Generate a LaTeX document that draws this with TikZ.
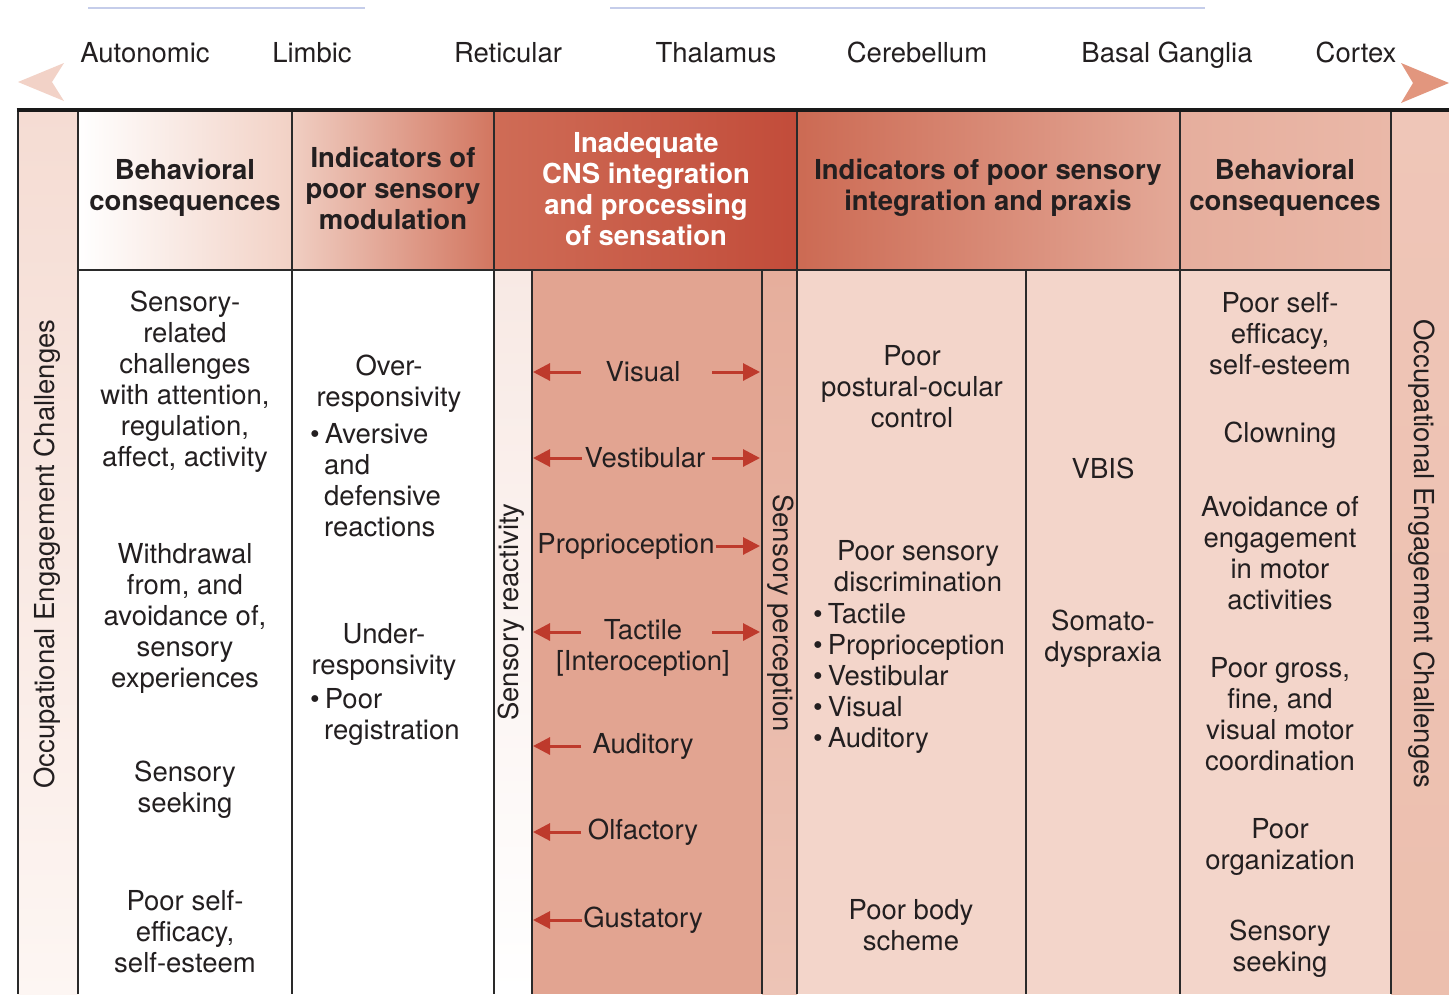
\documentclass[tikz,border=0pt]{standalone}
\usepackage{fontspec}
\setmainfont{TeX Gyre Heros}
\usetikzlibrary{arrows.meta}
\definecolor{txtc}{HTML}{231F20}
\definecolor{arrowred}{HTML}{BE3A2C}
\definecolor{gridc}{HTML}{2A2A2A}
\definecolor{bluel}{HTML}{C5CDEA}
\definecolor{pinkL}{HTML}{F2D2C7}
\definecolor{salmonR}{HTML}{E2967E}
\definecolor{bodypink}{HTML}{F3D5CA}
\definecolor{midsalmon}{HTML}{E2A491}
\definecolor{occtop}{HTML}{F5DCD3}
\definecolor{occmid}{HTML}{F1CEC2}
\definecolor{occbot}{HTML}{FDF6F3}
\definecolor{hAR}{HTML}{F2D1C5}
\definecolor{hBL}{HTML}{F0CEC2}
\definecolor{hBR}{HTML}{D27660}
\definecolor{hCL}{HTML}{CF6C56}
\definecolor{hCM}{HTML}{B73B2C}
\definecolor{hCR}{HTML}{C24C3A}
\definecolor{hDL}{HTML}{CC6A53}
\definecolor{hDM}{HTML}{DC937E}
\definecolor{hDR}{HTML}{E4A998}
\definecolor{hEL}{HTML}{E6AE9D}
\definecolor{hER}{HTML}{EAB8A8}
\definecolor{rTop}{HTML}{EFC6B8}
\definecolor{rMid}{HTML}{DF937B}
\definecolor{rBot}{HTML}{ECBFAE}
\definecolor{sreTop}{HTML}{F8E9E4}
\definecolor{sreMid}{HTML}{F4DDD5}
\definecolor{spTop}{HTML}{E6AE9C}
\definecolor{spMid}{HTML}{D7866E}
\definecolor{spBot}{HTML}{EDC4B6}
\begin{document}
\begin{tikzpicture}[x=1pt,y=-1pt,
  txt/.style={align=center, inner sep=0pt, text=txtc, font=\fontsize{27.5}{31}\selectfont},
  hdr/.style={txt, font=\fontsize{27.5}{31}\selectfont\bfseries},
  gridline/.style={draw=gridc, line width=2pt},
  toprule/.style={draw=black!90, line width=3.5pt},
  sarrow/.style={draw=arrowred, line width=3pt, -{Triangle[length=17pt,width=17pt]}}]

\useasboundingbox (0,0) rectangle (1449,994);
\fill[white] (0,0) rectangle (1449,994);

% top faint lines
\draw[bluel, line width=2pt] (88,8) -- (365,8);
\draw[bluel, line width=2pt] (610,8) -- (1205,8);

% arrow heads of the top scale
\fill[pinkL] (18,82) -- (64,63) -- (52,82) -- (64,101) -- cycle;
\fill[salmonR] (1449,83) -- (1401,63) -- (1413,83) -- (1401,103) -- cycle;

% top labels
\node[txt, anchor=base] (autonomic) at (145,62) {Autonomic};
\node[txt, anchor=base] (limbic) at (312,62) {Limbic};
\node[txt, anchor=base] (reticular) at (508,62) {Reticular};
\node[txt, anchor=base] (thalamus) at (716,62) {Thalamus};
\node[txt, anchor=base] (cerebellum) at (917,62) {Cerebellum};
\node[txt, anchor=base] (basal) at (1167,62) {Basal Ganglia};
\node[txt, anchor=base] (cortex) at (1356,62) {Cortex};

% ---------- fills ----------
\shade[top color=occtop, middle color=occmid, bottom color=occbot] (18,110) rectangle (78,994);
\shade[left color=white, right color=hAR] (78,110) rectangle (292,270);
\shade[left color=hBL, right color=hBR] (292,110) rectangle (494,270);
\shade[left color=hCL, middle color=hCM, right color=hCR] (494,110) rectangle (797,270);
\shade[left color=hDL, middle color=hDM, right color=hDR] (797,110) rectangle (1180,270);
\shade[left color=hEL, right color=hER] (1180,110) rectangle (1391,270);
\shade[top color=rTop, middle color=rMid, bottom color=rBot] (1391,110) rectangle (1449,994);
\fill[white] (78,270) rectangle (494,994);
\shade[top color=sreTop, middle color=sreMid, bottom color=white] (494,270) rectangle (532,994);
\fill[midsalmon] (532,270) rectangle (762,994);
\shade[top color=spTop, middle color=spMid, bottom color=spBot] (762,270) rectangle (797,994);
\fill[bodypink] (797,270) rectangle (1391,994);

% ---------- grid ----------
\foreach \xx in {18,78,292,494,797,1180,1391}
  \draw[gridline] (\xx,110) -- (\xx,994);
\foreach \xx in {532,762,1026}
  \draw[gridline] (\xx,270) -- (\xx,994);
\draw[gridline] (78,270) -- (1391,270);
\draw[toprule] (16.5,110) -- (1449,110);

% ---------- headers ----------
\node[hdr] (h1) at (185,188) {Behavioral\\consequences};
\node[hdr] (h2) at (393,188) {Indicators of\\poor sensory\\modulation};
\node[hdr, text=white] (h3) at (646,189) {Inadequate\\CNS integration\\and processing\\of sensation};
\node[hdr] (h4) at (988,188) {Indicators of poor sensory\\integration and praxis};
\node[hdr] (h5) at (1285,188) {Behavioral\\consequences};

% ---------- vertical labels ----------
\node[txt, rotate=90] (occL) at (47,554) {Occupational Engagement Challenges};
\node[txt, rotate=-90] (occR) at (1422,554) {Occupational Engagement Challenges};
\node[txt, rotate=90] (sreact) at (511,612) {Sensory reactivity};
\node[txt, rotate=-90] (sperc) at (781,613) {Sensory perception};

% ---------- column 1 ----------
\node[txt] (b1a) at (185,382) {Sensory-\\related\\challenges\\with attention,\\regulation,\\affect, activity};
\node[txt] (b1b) at (185,618) {Withdrawal\\from, and\\avoidance of,\\sensory\\experiences};
\node[txt] (b1c) at (185,790) {Sensory\\seeking};
\node[txt] (b1d) at (185,932) {Poor self-\\efficacy,\\self-esteem};

% ---------- column 2 ----------
\node[txt] (b2a) at (389,384) {Over-\\responsivity};
\node[txt, align=left, anchor=west] (b2b) at (310,480) {\textbullet\hspace{5pt}Aversive\\\hspace*{14pt}and\\\hspace*{14pt}defensive\\\hspace*{14pt}reactions};
\node[txt] (b2c) at (384,652) {Under-\\responsivity};
\node[txt, align=left, anchor=west] (b2d) at (310,717) {\textbullet\hspace{5pt}Poor\\\hspace*{14pt}registration};

% ---------- column 3 ----------
\node[txt] (vis) at (643,372) {Visual};
\node[txt] (ves) at (645,458) {Vestibular};
\node[txt] (pro) at (626,546) {Proprioception};
\node[txt] (tac) at (643,648) {Tactile\\{[Interoception]}};
\node[txt] (aud) at (643,746) {Auditory};
\node[txt] (olf) at (643,832) {Olfactory};
\node[txt] (gus) at (643,920) {Gustatory};

\coordinate (visLs) at (581,372); \coordinate (visLe) at (533,372);
\coordinate (visRs) at (712,372); \coordinate (visRe) at (760,372);
\coordinate (vesLs) at (582,458); \coordinate (vesLe) at (533,458);
\coordinate (vesRs) at (712,458); \coordinate (vesRe) at (760,458);
\coordinate (proRs) at (716,546); \coordinate (proRe) at (760,546);
\coordinate (tacLs) at (581,632); \coordinate (tacLe) at (533,632);
\coordinate (tacRs) at (712,632); \coordinate (tacRe) at (760,632);
\coordinate (audLs) at (581,746); \coordinate (audLe) at (533,746);
\coordinate (olfLs) at (581,832); \coordinate (olfLe) at (533,832);
\coordinate (gusLs) at (582,920); \coordinate (gusLe) at (533,920);

\draw[sarrow] (visLs) -- (visLe);
\draw[sarrow] (visRs) -- (visRe);
\draw[sarrow] (vesLs) -- (vesLe);
\draw[sarrow] (vesRs) -- (vesRe);
\draw[sarrow] (proRs) -- (proRe);
\draw[sarrow] (tacLs) -- (tacLe);
\draw[sarrow] (tacRs) -- (tacRe);
\draw[sarrow] (audLs) -- (audLe);
\draw[sarrow] (olfLs) -- (olfLe);
\draw[sarrow] (gusLs) -- (gusLe);

% ---------- column 4 ----------
\node[txt] (p4a) at (912,387) {Poor\\postural-ocular\\control};
\node[txt] (p4b) at (918,566) {Poor sensory\\discrimination};
\node[txt, align=left, anchor=west] (p4c) at (813,678) {\textbullet\hspace{5pt}Tactile\\\textbullet\hspace{5pt}Proprioception\\\textbullet\hspace{5pt}Vestibular\\\textbullet\hspace{5pt}Visual\\\textbullet\hspace{5pt}Auditory};
\node[txt] (p4d) at (911,925) {Poor body\\scheme};
\node[txt] (vbis) at (1103,468) {VBIS};
\node[txt] (somato) at (1103,639) {Somato-\\dyspraxia};

% ---------- column 5 ----------
\node[txt] (c5a) at (1280,334) {Poor self-\\efficacy,\\self-esteem};
\node[txt] (c5b) at (1280,435) {Clowning};
\node[txt] (c5c) at (1280,553) {Avoidance of\\engagement\\in motor\\activities};
\node[txt] (c5d) at (1280,714) {Poor gross,\\fine, and\\visual motor\\coordination};
\node[txt] (c5e) at (1280,847) {Poor\\organization};
\node[txt] (c5f) at (1280,949) {Sensory\\seeking};
\end{tikzpicture}
\end{document}
